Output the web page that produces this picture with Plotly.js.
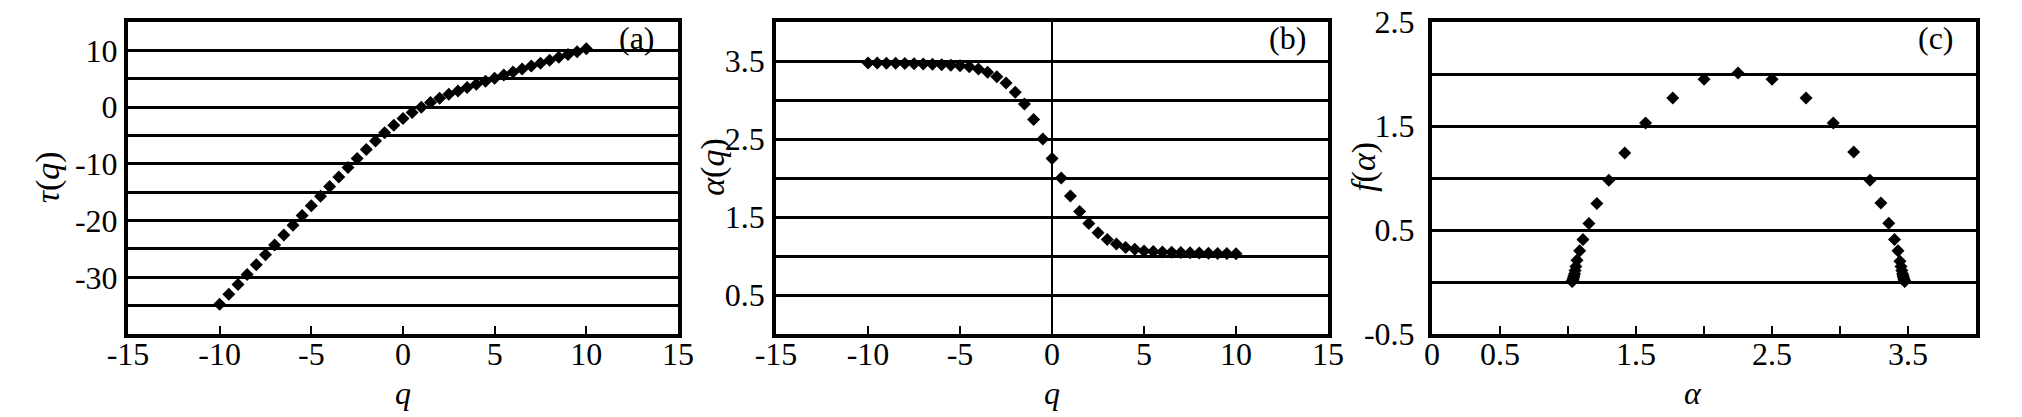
<!DOCTYPE html>
<html>
<head>
<meta charset="utf-8">
<script src="https://cdn.plot.ly/plotly-3.0.1.min.js"></script>
<style>
  html, body { margin: 0; padding: 0; background: #fff; }
  #chart { width: 2022px; height: 417px; }
</style>
</head>
<body>
<div id="chart"></div>
<script>
// moment order q
var q = [-10, -9.5, -9, -8.5, -8, -7.5, -7, -6.5, -6, -5.5, -5, -4.5, -4, -3.5, -3, -2.5, -2, -1.5, -1, -0.5,
  0, 0.5, 1, 1.5, 2, 2.5, 3, 3.5, 4, 4.5, 5, 5.5, 6, 6.5, 7, 7.5, 8, 8.5, 9, 9.5, 10];

// (a) mass exponent tau(q)
var tau = [-34.76, -33.01, -31.27, -29.52, -27.78, -26.04, -24.30, -22.56, -20.83, -19.11,
  -17.40, -15.72, -14.01, -12.32, -10.66, -9.03, -7.45, -5.96, -4.52, -3.20,
  -2.01, -0.95, 0.0, 0.83, 1.59, 2.27, 2.87, 3.48, 4.03, 4.59,
  5.12, 5.67, 6.20, 6.73, 7.25, 7.76, 8.27, 8.79, 9.29, 9.79, 10.30];

// (b) singularity exponent alpha(q)
var alpha = [3.475, 3.474, 3.473, 3.471, 3.469, 3.466, 3.463, 3.459, 3.454, 3.448,
  3.440, 3.426, 3.400, 3.358, 3.300, 3.220, 3.100, 2.950, 2.750, 2.500,
  2.250, 2.000, 1.770, 1.570, 1.417, 1.300, 1.212, 1.154, 1.110, 1.086,
  1.066, 1.058, 1.052, 1.048, 1.044, 1.041, 1.038, 1.036, 1.034, 1.032, 1.030];

// (c) multifractal spectrum f(alpha)
var fAlpha = [0.005, 0.01, 0.015, 0.02, 0.03, 0.045, 0.06, 0.08, 0.11, 0.15,
  0.20, 0.30, 0.41, 0.566, 0.76, 0.98, 1.25, 1.53, 1.77, 1.95,
  2.01, 1.95, 1.77, 1.53, 1.24, 0.98, 0.756, 0.563, 0.41, 0.30,
  0.21, 0.15, 0.11, 0.08, 0.06, 0.045, 0.03, 0.02, 0.015, 0.01, 0.005];

// ticks and their labels (plain hyphen, as printed)
var qTicks = [-15, -10, -5, 0, 5, 10, 15];
var qLabels = ['-15', '-10', '-5', '0', '5', '10', '15'];
var tauTicks = [-30, -20, -10, 0, 10];
var tauLabels = ['-30', '-20', '-10', '0', '10'];
var alphaTicks = [0.5, 1.5, 2.5, 3.5];
var alphaLabels = ['0.5', '1.5', '2.5', '3.5'];
var fTicks = [-0.5, 0.5, 1.5, 2.5];
var fLabels = ['-0.5', '0.5', '1.5', '2.5'];
var aTicks = [0, 0.5, 1, 1.5, 2, 2.5, 3, 3.5, 4];
var aLabels = ['0', '0.5', '', '1.5', '', '2.5', '', '3.5', ''];

var serif = 'Liberation Serif, Times New Roman, serif';
var tickFont = { family: serif, size: 32, color: '#000' };
var titleFont = { family: serif, size: 34, color: '#000' };
var xTitleFont = { family: serif, size: 32, color: '#000' };
var panelFont = { family: serif, size: 32, color: '#000' };

function marks(x, y, xa, ya) {
  return {
    x: x, y: y, xaxis: xa, yaxis: ya,
    type: 'scatter', mode: 'markers',
    marker: { symbol: 'diamond', size: 10, color: '#000' },
    hoverinfo: 'x+y'
  };
}

function xAxis(domain, range, ticks, labels, anchor) {
  return {
    domain: domain, range: range, anchor: anchor,
    showline: true, mirror: true, linewidth: 4, linecolor: '#000',
    showgrid: false, zeroline: false,
    tickvals: ticks, ticktext: labels,
    ticks: 'inside', ticklen: 8, tickwidth: 2, tickcolor: '#000',
    tickfont: tickFont, ticklabelstandoff: -11
  };
}

function yAxis(domain, range, ticks, labels, minorStep, anchor, standoff) {
  return {
    domain: domain, range: range, anchor: anchor,
    showline: true, mirror: true, linewidth: 4, linecolor: '#000',
    showgrid: true, gridcolor: '#000', gridwidth: 3, zeroline: false,
    tickvals: ticks, ticktext: labels, ticks: '',
    tickfont: tickFont, ticklabelstandoff: standoff,
    minor: { dtick: minorStep, tick0: 0, showgrid: true, gridcolor: '#000', gridwidth: 3 }
  };
}

var yDom = [0.199, 0.947];

var data = [
  marks(q, tau, 'x', 'y'),
  marks(q, alpha, 'x2', 'y2'),
  marks(alpha, fAlpha, 'x3', 'y3')
];

var xa2 = xAxis([0.3838, 0.6568], [-15, 15], qTicks, qLabels, 'y2');
xa2.zeroline = true;
xa2.zerolinecolor = '#000';
xa2.zerolinewidth = 1.5;

// axis titles as annotations so they can sit tight to / over the tick labels
function xTitle(text, ax, x) {
  return { text: text, xref: 'x' + ax + ' domain', yref: 'paper', x: x, y: 0.058, xanchor: 'center', yanchor: 'middle',
    showarrow: false, font: xTitleFont };
}

function yTitle(text, x, y) {
  return { text: text, xref: 'paper', yref: 'paper', x: x, y: y, xanchor: 'center', yanchor: 'middle',
    textangle: -90, showarrow: false, font: titleFont };
}

function panelTag(text, ax) {
  return { text: text, xref: 'x' + ax + ' domain', yref: 'y' + ax + ' domain', x: 0.926, y: 0.95,
    xanchor: 'center', yanchor: 'middle', showarrow: false, font: panelFont };
}

var layout = {
  width: 2022, height: 417,
  margin: { l: 0, r: 0, t: 0, b: 0 },
  paper_bgcolor: '#fff', plot_bgcolor: '#fff',
  showlegend: false,
  font: { family: serif, color: '#000' },
  xaxis: xAxis([0.0633, 0.3353], [-15, 15], qTicks, qLabels, 'y'),
  yaxis: yAxis(yDom, [-40, 15], tauTicks, tauLabels, 5, 'x', 0),
  xaxis2: xa2,
  yaxis2: yAxis(yDom, [0, 4], alphaTicks, alphaLabels, 0.5, 'x2', 1),
  xaxis3: xAxis([0.7082, 0.9773], [0, 4], aTicks, aLabels, 'y3'),
  yaxis3: yAxis(yDom, [-0.5, 2.5], fTicks, fLabels, 0.5, 'x3', 7),
  annotations: [
    panelTag('(a)', ''),
    panelTag('(b)', '2'),
    panelTag('(c)', '3'),
    xTitle('<i>q</i>', '', 0.5),
    xTitle('<i>q</i>', '2', 0.5),
    xTitle('<i>α</i>', '3', 0.48),
    yTitle('<i>τ</i>(<i>q</i>)', 0.0237, 0.575),
    yTitle('<i>α</i>(<i>q</i>)', 0.3526, 0.600),
    yTitle('<i>f</i>(<i>α</i>)', 0.6746, 0.600)
  ]
};

Plotly.newPlot('chart', data, layout, { displayModeBar: false, staticPlot: true });
</script>
</body>
</html>
